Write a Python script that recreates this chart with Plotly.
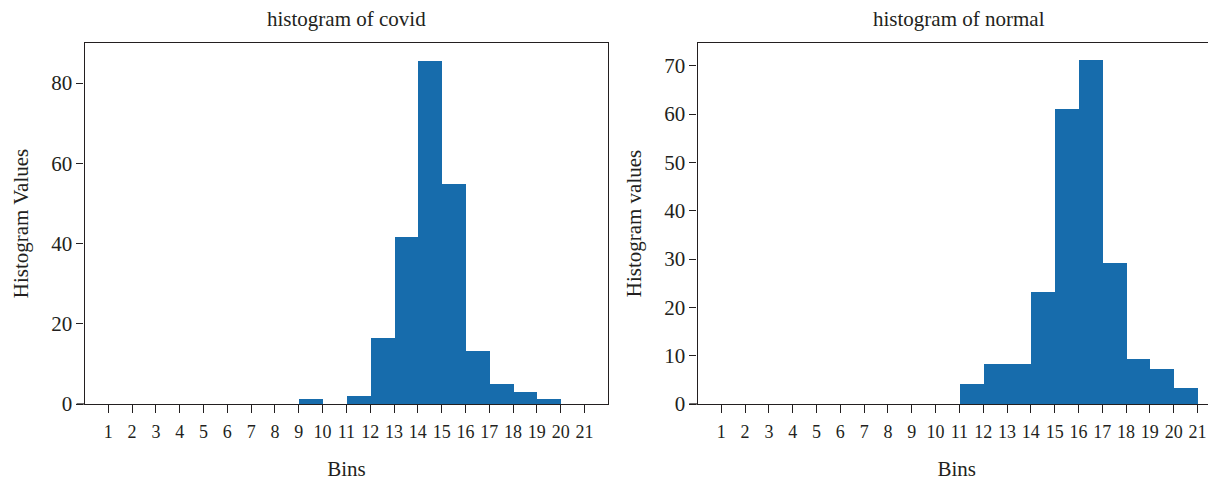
import plotly.graph_objects as go

# Data
bin_edges_left = list(range(1, 21))          # bins [1,2], [2,3], ..., [20,21]
tick_labels = [str(i) for i in range(1, 22)]
covid_values = [0, 0, 0, 0, 0, 0, 0, 0, 1.25, 0, 2.0, 16.4, 41.6, 85.5, 54.8, 13.2, 5.0, 3.0, 1.25, 0]
normal_values = [0, 0, 0, 0, 0, 0, 0, 0, 0, 0, 4.1, 8.25, 8.25, 23.1, 61.0, 71.1, 29.1, 9.3, 7.2, 3.3]

BAR_COLOR = "#176cac"
LINE_COLOR = "#231f20"
FONT = "Liberation Serif"

fig = go.Figure()
fig.add_trace(go.Bar(x=bin_edges_left, y=covid_values, width=1, offset=0,
                     marker=dict(color=BAR_COLOR, line=dict(width=0)),
                     xaxis="x", yaxis="y", showlegend=False))
fig.add_trace(go.Bar(x=bin_edges_left, y=normal_values, width=1, offset=0,
                     marker=dict(color=BAR_COLOR, line=dict(width=0)),
                     xaxis="x2", yaxis="y2", showlegend=False))

# page body has an 8px margin; the figure is sized to fill the remaining window
OFF = 8
W, H = 1216 - OFF, 483 - OFF
left_dom = [(84.5 - OFF) / W, (608.3 - OFF) / W]
right_dom = [(697.5 - OFF) / W, 1.0]
px_per_unit = (608.3 - 84.5) / 22
right_max = (1216 - 697.5) / px_per_unit

common_x = dict(
    tickmode="array", tickvals=list(range(1, 22)), ticktext=tick_labels,
    ticks="outside", ticklen=8, tickwidth=1.3, tickcolor=LINE_COLOR,
    showline=True, linecolor=LINE_COLOR, linewidth=1.3, mirror=True,
    showgrid=False, zeroline=False, ticklabelstandoff=3,
    tickfont=dict(family=FONT, size=18, color=LINE_COLOR),
    title=dict(text="Bins", font=dict(family=FONT, size=21, color=LINE_COLOR), standoff=20),
)
common_y = dict(
    ticks="outside", ticklen=7, tickwidth=1.3, tickcolor=LINE_COLOR,
    showline=True, linecolor=LINE_COLOR, linewidth=1.3,
    showgrid=False, zeroline=False,
    tickfont=dict(family=FONT, size=21, color=LINE_COLOR),
)

fig.update_layout(
    width=W, height=H,
    margin=dict(l=0, r=0, t=43 - OFF, b=79),
    paper_bgcolor="white", plot_bgcolor="white",
    bargap=0,
    xaxis=dict(domain=left_dom, range=[0, 22], anchor="y", **common_x),
    yaxis=dict(domain=[0, 1], range=[0, 90], anchor="x", tickvals=[0, 20, 40, 60, 80], mirror=True,
               title=dict(text="Histogram Values", font=dict(family=FONT, size=21, color=LINE_COLOR), standoff=16),
               **common_y),
    xaxis2=dict(domain=right_dom, range=[0, right_max], anchor="y2", **common_x),
    yaxis2=dict(domain=[0, 1], range=[0, 74.7], anchor="x2", tickvals=[0, 10, 20, 30, 40, 50, 60, 70], mirror=False,
                title=dict(text="Histogram values", font=dict(family=FONT, size=21, color=LINE_COLOR), standoff=16),
                **common_y),
    annotations=[
        dict(text="histogram of covid", xref="x domain", yref="paper", x=0.5, y=1, yshift=43 - 19,
             showarrow=False, font=dict(family=FONT, size=21, color=LINE_COLOR), yanchor="middle"),
        dict(text="histogram of normal", xref="x2", yref="paper", x=11, y=1, yshift=43 - 19,
             showarrow=False, font=dict(family=FONT, size=21, color=LINE_COLOR), yanchor="middle"),
    ],
    shapes=[
        dict(type="line", xref="x domain", yref="y domain", x0=-0.015, x1=0, y0=0, y1=0,
             line=dict(color=LINE_COLOR, width=1.3)),
        dict(type="line", xref="x2 domain", yref="y2 domain", x0=-0.016, x1=0, y0=0, y1=0,
             line=dict(color=LINE_COLOR, width=1.3)),
    ],
)

fig.write_html("out.html")
